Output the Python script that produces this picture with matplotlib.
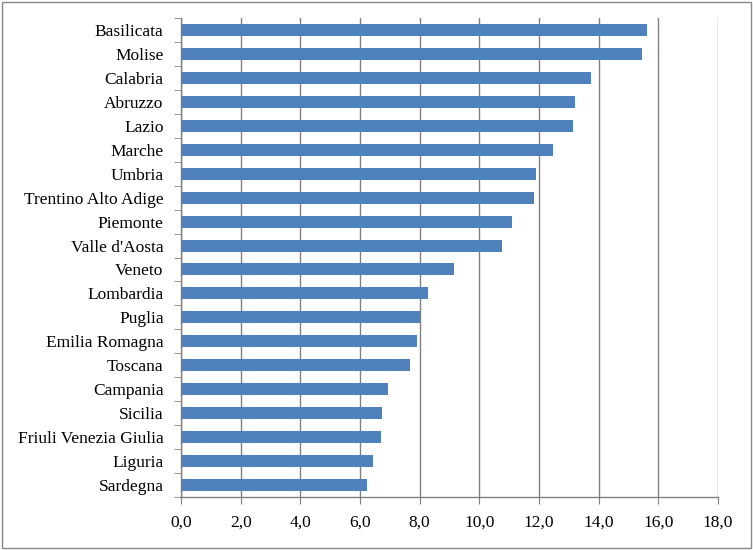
import matplotlib
matplotlib.use('Agg')
import matplotlib.pyplot as plt
from matplotlib.patches import Rectangle

# Data (top to bottom as in the chart)
regions = ['Basilicata', 'Molise', 'Calabria', 'Abruzzo', 'Lazio', 'Marche', 'Umbria',
           'Trentino Alto Adige', 'Piemonte', "Valle d'Aosta", 'Veneto', 'Lombardia',
           'Puglia', 'Emilia Romagna', 'Toscana', 'Campania', 'Sicilia',
           'Friuli Venezia Giulia', 'Liguria', 'Sardegna']
values = [15.62, 15.45, 13.74, 13.20, 13.13, 12.46, 11.90, 11.83, 11.08, 10.76,
          9.15, 8.28, 8.00, 7.92, 7.68, 6.94, 6.75, 6.71, 6.43, 6.24]
xticks = [0, 2, 4, 6, 8, 10, 12, 14, 16, 18]

plt.rcParams['font.family'] = ['Liberation Serif', 'DejaVu Serif']
font_size = 12.5
grid_color = '#808080'

fig = plt.figure(figsize=(7.53, 5.50), dpi=100)
ax = fig.add_axes([181 / 753, 1 - 497 / 550, (718 - 181) / 753, (497 - 18) / 550])

n = len(regions)
pos = list(range(n))[::-1]
ax.barh(pos, values, height=0.5, color='#4F81BD', zorder=3)

ax.set_xlim(0, 18)
ax.set_ylim(-0.5, n - 0.5)
ax.set_xticks(xticks)
ax.set_xticklabels([('%.1f' % t).replace('.', ',') for t in xticks], fontsize=font_size)
ax.set_yticks(pos)
ax.set_yticklabels(regions, fontsize=font_size)
ax.tick_params(axis='y', length=0, pad=12.5)
ax.tick_params(axis='x', length=5, color=grid_color, pad=8, direction='out')

# minor ticks between categories on the y axis
ax.set_yticks([p + 0.5 for p in range(-1, n)], minor=True)
ax.tick_params(axis='y', which='minor', length=5, color=grid_color, direction='out')

ax.grid(axis='x', color=grid_color, linewidth=1, zorder=0)
for s in ['top', 'right']:
    ax.spines[s].set_visible(False)
for s in ['left', 'bottom']:
    ax.spines[s].set_color(grid_color)
    ax.spines[s].set_linewidth(1)

# outer border of the chart area
fig.patches.append(Rectangle((0.002, 0.003), 0.995, 0.994, transform=fig.transFigure,
                             fill=False, edgecolor='#888888', linewidth=1))

fig.savefig('out.png', dpi=100)
